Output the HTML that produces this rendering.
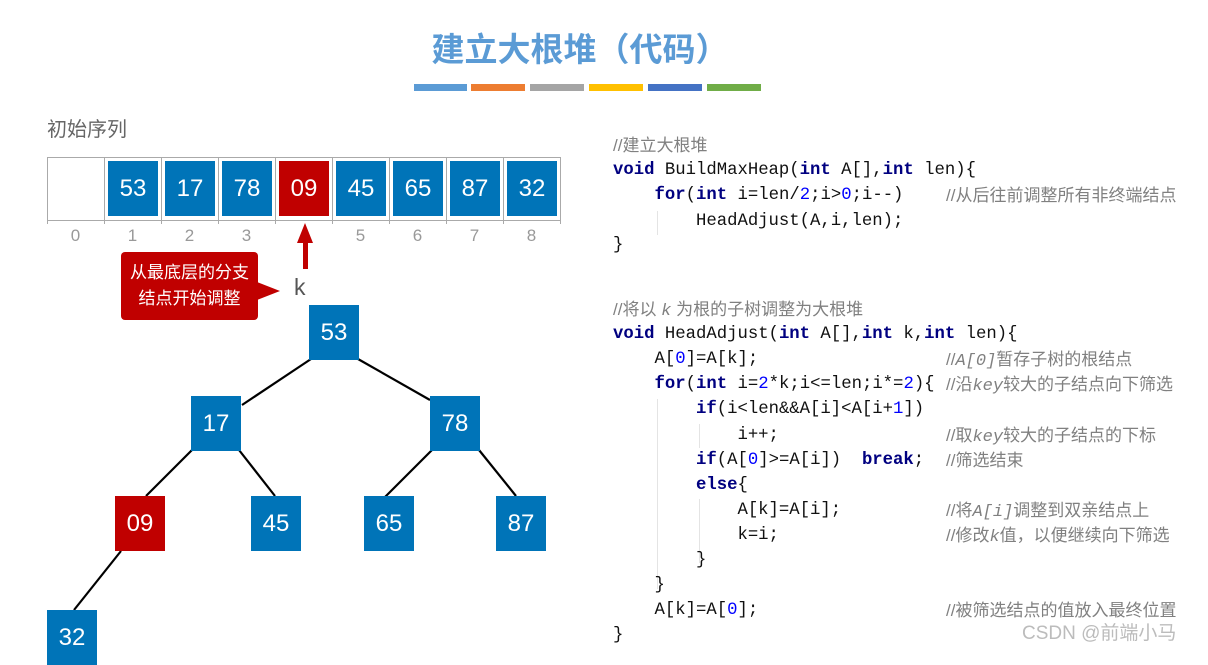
<!DOCTYPE html>
<html><head><meta charset="utf-8"><style>
body{margin:0;width:1208px;height:649px;background:#fff;position:relative;overflow:hidden;font-family:"Liberation Sans","Noto Sans CJK SC",sans-serif}
.a{position:absolute}
.bx{position:absolute;background:#0074b8;color:#fff;font-size:24px;display:flex;align-items:center;justify-content:center}
.red{background:#c00000}
.idx{position:absolute;top:226px;width:57px;text-align:center;color:#999;font-size:17px}
.cd{position:absolute;font-family:"Liberation Mono","Noto Sans CJK SC",monospace;font-size:17.3px;white-space:pre;line-height:20px;color:#111}
.k{color:#000080;font-weight:bold}.n{color:#0000ff}
.c{color:#808080;font-family:"Liberation Sans","Noto Sans CJK SC",sans-serif;font-size:17px}
.c i{font-family:"Liberation Mono",monospace}
.g{position:absolute;width:1px;background:#e4e4e4}
</style></head><body>
<div class="a" style="left:380px;width:400px;top:24px;text-align:center;color:#5b9bd5;font-size:33px;font-weight:bold;font-family:'Noto Sans CJK SC',sans-serif;line-height:46px">建立大根堆（代码）</div>
<div class="a" style="left:414px;top:84px;width:53px;height:7px;background:#5b9bd5"></div>
<div class="a" style="left:471px;top:84px;width:54px;height:7px;background:#ed7d31"></div>
<div class="a" style="left:530px;top:84px;width:54px;height:7px;background:#a5a5a5"></div>
<div class="a" style="left:589px;top:84px;width:54px;height:7px;background:#ffc000"></div>
<div class="a" style="left:648px;top:84px;width:54px;height:7px;background:#4472c4"></div>
<div class="a" style="left:707px;top:84px;width:54px;height:7px;background:#70ad47"></div>
<div class="a" style="left:47px;top:113px;color:#666;font-size:20px">初始序列</div>
<svg class="a" style="left:0;top:0" width="1208" height="649">
<rect x="47.5" y="157.5" width="513" height="63" fill="none" stroke="#aaa"/>
<g stroke="#aaa"><line x1="104.5" y1="157" x2="104.5" y2="224"/><line x1="161.5" y1="157" x2="161.5" y2="224"/><line x1="218.5" y1="157" x2="218.5" y2="224"/><line x1="275.5" y1="157" x2="275.5" y2="224"/><line x1="332.5" y1="157" x2="332.5" y2="224"/><line x1="389.5" y1="157" x2="389.5" y2="224"/><line x1="446.5" y1="157" x2="446.5" y2="224"/><line x1="503.5" y1="157" x2="503.5" y2="224"/><line x1="47.5" y1="220" x2="47.5" y2="224"/><line x1="560.5" y1="220" x2="560.5" y2="224"/></g>
<g stroke="#000" stroke-width="2.2"><line x1="311" y1="359" x2="242" y2="405"/><line x1="358" y1="359" x2="430" y2="400"/><line x1="192" y1="450" x2="146" y2="496"/><line x1="239" y1="450" x2="275" y2="496"/><line x1="432" y1="450" x2="385" y2="497"/><line x1="479" y1="450" x2="516" y2="496"/><line x1="121" y1="551" x2="74" y2="610"/></g>
<polygon points="305,223 297,243 313,243" fill="#c00000"/><rect x="303" y="242" width="5" height="27" fill="#c00000"/>
<rect x="121" y="252" width="137" height="68" rx="4" fill="#c00000"/>
<polygon points="257,282 280,291 257,300" fill="#c00000"/>
</svg>
<div class="bx" style="left:108px;top:161px;width:50px;height:55px">53</div>
<div class="bx" style="left:165px;top:161px;width:50px;height:55px">17</div>
<div class="bx" style="left:222px;top:161px;width:50px;height:55px">78</div>
<div class="bx red" style="left:279px;top:161px;width:50px;height:55px">09</div>
<div class="bx" style="left:336px;top:161px;width:50px;height:55px">45</div>
<div class="bx" style="left:393px;top:161px;width:50px;height:55px">65</div>
<div class="bx" style="left:450px;top:161px;width:50px;height:55px">87</div>
<div class="bx" style="left:507px;top:161px;width:50px;height:55px">32</div>
<div class="idx" style="left:47px">0</div><div class="idx" style="left:104px">1</div><div class="idx" style="left:161px">2</div><div class="idx" style="left:218px">3</div><div class="idx" style="left:332px">5</div><div class="idx" style="left:389px">6</div><div class="idx" style="left:446px">7</div><div class="idx" style="left:503px">8</div>
<div class="a" style="left:121px;top:260px;width:137px;text-align:center;color:#fff;font-size:17px;line-height:26px">从最底层的分支<br>结点开始调整</div>
<div class="a" style="left:294px;top:274px;color:#555;font-size:23px">k</div>
<div class="bx" style="left:309px;top:305px;width:50px;height:55px">53</div>
<div class="bx" style="left:191px;top:396px;width:50px;height:55px">17</div>
<div class="bx" style="left:430px;top:396px;width:50px;height:55px">78</div>
<div class="bx red" style="left:115px;top:496px;width:50px;height:55px">09</div>
<div class="bx" style="left:251px;top:496px;width:50px;height:55px">45</div>
<div class="bx" style="left:364px;top:496px;width:50px;height:55px">65</div>
<div class="bx" style="left:496px;top:496px;width:50px;height:55px">87</div>
<div class="bx" style="left:47px;top:610px;width:50px;height:55px;align-items:flex-start;padding-top:0"><span style="margin-top:14px">32</span></div>
<div class="g" style="left:657px;top:211px;height:24px"></div>
<div class="g" style="left:657px;top:399px;height:190px"></div>
<div class="g" style="left:699px;top:424px;height:24px"></div>
<div class="g" style="left:699px;top:499px;height:64px"></div>
<div class="cd" style="left:613px;top:136px"><span class="c">//建立大根堆</span></div>
<div class="cd" style="left:613px;top:161px"><span class="k">void</span> BuildMaxHeap(<span class="k">int</span> A[],<span class="k">int</span> len){</div>
<div class="cd" style="left:613px;top:186px">    <span class="k">for</span>(<span class="k">int</span> i=len/<span class="n">2</span>;i&gt;<span class="n">0</span>;i--)</div>
<div class="cd" style="left:946px;top:186px"><span class="c">//从后往前调整所有非终端结点</span></div>
<div class="cd" style="left:613px;top:212px">        HeadAdjust(A,i,len);</div>
<div class="cd" style="left:613px;top:236px">}</div>
<div class="cd" style="left:613px;top:300px"><span class="c">//将以 <i>k</i> 为根的子树调整为大根堆</span></div>
<div class="cd" style="left:613px;top:325px"><span class="k">void</span> HeadAdjust(<span class="k">int</span> A[],<span class="k">int</span> k,<span class="k">int</span> len){</div>
<div class="cd" style="left:613px;top:350px">    A[<span class="n">0</span>]=A[k];</div>
<div class="cd" style="left:946px;top:350px"><span class="c">//<i>A[0]</i>暂存子树的根结点</span></div>
<div class="cd" style="left:613px;top:375px">    <span class="k">for</span>(<span class="k">int</span> i=<span class="n">2</span>*k;i&lt;=len;i*=<span class="n">2</span>){</div>
<div class="cd" style="left:946px;top:375px"><span class="c">//沿<i>key</i>较大的子结点向下筛选</span></div>
<div class="cd" style="left:613px;top:400px">        <span class="k">if</span>(i&lt;len&amp;&amp;A[i]&lt;A[i+<span class="n">1</span>])</div>
<div class="cd" style="left:613px;top:426px">            i++;</div>
<div class="cd" style="left:946px;top:426px"><span class="c">//取<i>key</i>较大的子结点的下标</span></div>
<div class="cd" style="left:613px;top:451px">        <span class="k">if</span>(A[<span class="n">0</span>]&gt;=A[i])  <span class="k">break</span>;</div>
<div class="cd" style="left:946px;top:451px"><span class="c">//筛选结束</span></div>
<div class="cd" style="left:613px;top:476px">        <span class="k">else</span>{</div>
<div class="cd" style="left:613px;top:501px">            A[k]=A[i];</div>
<div class="cd" style="left:946px;top:501px"><span class="c">//将<i>A[i]</i>调整到双亲结点上</span></div>
<div class="cd" style="left:613px;top:526px">            k=i;</div>
<div class="cd" style="left:946px;top:526px"><span class="c">//修改<i>k</i>值，以便继续向下筛选</span></div>
<div class="cd" style="left:613px;top:551px">        }</div>
<div class="cd" style="left:613px;top:576px">    }</div>
<div class="cd" style="left:613px;top:601px">    A[k]=A[<span class="n">0</span>];</div>
<div class="cd" style="left:946px;top:601px"><span class="c">//被筛选结点的值放入最终位置</span></div>
<div class="cd" style="left:613px;top:626px">}</div>
<div class="a" style="left:1022px;top:618px;color:rgba(160,160,160,0.7);font-size:19px">CSDN @前端小马</div>
</body></html>
